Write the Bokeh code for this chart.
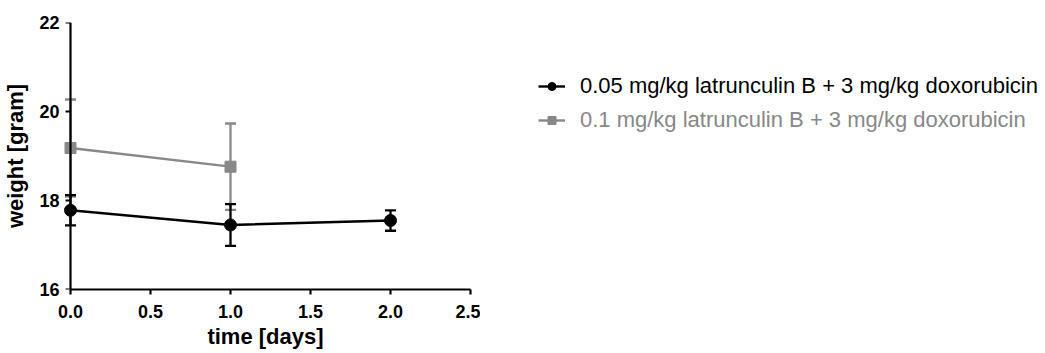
from bokeh.plotting import figure
from bokeh.models import (Range1d, Whisker, TeeHead, ColumnDataSource, Legend, LegendItem,
                          FixedTicker, LinearAxis, NumeralTickFormatter)
from bokeh.layouts import row
from bokeh.embed import file_html
from bokeh.resources import INLINE

# ---- data ----
days_a = [0, 1, 2]
mean_a = [17.78, 17.45, 17.55]
err_a = [0.34, 0.47, 0.23]
days_b = [0, 1]
mean_b = [19.18, 18.76]
err_b = [1.09, 0.97]
x_ticks = [0.0, 0.5, 1.0, 1.5, 2.0, 2.5]
y_ticks = [16, 18, 20, 22]
series_labels = ["0.05 mg/kg latrunculin B + 3 mg/kg doxorubicin",
                 "0.1 mg/kg latrunculin B + 3 mg/kg doxorubicin"]
color_a = "#000000"
color_b = "#888888"
FONT = "Liberation Sans"

src_a = ColumnDataSource(dict(x=days_a, y=mean_a,
                              lo=[m - e for m, e in zip(mean_a, err_a)],
                              hi=[m + e for m, e in zip(mean_a, err_a)]))
src_b = ColumnDataSource(dict(x=days_b, y=mean_b,
                              lo=[m - e for m, e in zip(mean_b, err_b)],
                              hi=[m + e for m, e in zip(mean_b, err_b)]))

p = figure(width=480, height=353, x_range=Range1d(-0.0625, 2.5), y_range=Range1d(16, 22),
           output_backend="svg", toolbar_location=None,
           min_border_left=60, min_border_right=10, min_border_top=22, min_border_bottom=64)
p.grid.visible = False
p.outline_line_color = None

for src, col in ((src_b, color_b), (src_a, color_a)):
    w = Whisker(source=src, base="x", upper="hi", lower="lo", line_color=col, line_width=2.3,
                upper_head=TeeHead(size=11, line_color=col, line_width=2.3),
                lower_head=TeeHead(size=11, line_color=col, line_width=2.3))
    p.add_layout(w)

p.line("x", "y", source=src_b, line_color=color_b, line_width=2.4)
p.scatter("x", "y", source=src_b, marker="square", size=11, color=color_b)
p.line("x", "y", source=src_a, line_color=color_a, line_width=2.4)
p.scatter("x", "y", source=src_a, marker="circle", size=12, color=color_a)


def style(ax):
    ax.axis_line_width = 2.2
    ax.axis_line_color = "black"
    ax.major_tick_line_width = 2.2
    ax.major_tick_line_color = "black"
    ax.major_tick_out = 5
    ax.major_tick_in = 0
    ax.minor_tick_out = 0
    ax.minor_tick_in = 0
    ax.major_label_text_font = FONT
    ax.major_label_text_font_style = "bold"
    ax.major_label_text_font_size = "18px"
    ax.major_label_text_color = "black"
    ax.axis_label_text_font = FONT
    ax.axis_label_text_font_style = "bold"
    ax.axis_label_text_font_size = "22px"
    ax.axis_label_text_color = "black"


# x axis (normal, below)
xa = p.xaxis[0]
style(xa)
xa.ticker = FixedTicker(ticks=x_ticks)
xa.formatter = NumeralTickFormatter(format="0.0")
xa.bounds = (0, 2.5)
xa.axis_label = "time [days]"
xa.major_label_standoff = 10
xa.axis_label_standoff = 3

# y axis line + ticks drawn at x = 0
ya = p.yaxis[0]
style(ya)
ya.ticker = FixedTicker(ticks=y_ticks)
ya.bounds = (16, 22)
ya.fixed_location = 0
ya.major_label_text_alpha = 0
ya.axis_label = None

# y axis labels + title in the left panel
yl = LinearAxis(ticker=FixedTicker(ticks=y_ticks))
style(yl)
yl.axis_line_color = None
yl.major_tick_line_color = None
yl.major_tick_out = 0
yl.major_label_standoff = 1
yl.axis_label = "weight [gram]"
yl.axis_label_standoff = 8
p.add_layout(yl, "left")

# ---- legend panel ----
lf = figure(width=565, height=353, x_range=Range1d(0, 1), y_range=Range1d(0, 1),
            output_backend="svg", toolbar_location=None,
            min_border_left=0, min_border_right=0, min_border_top=22, min_border_bottom=64)
lf.axis.visible = False
lf.grid.visible = False
lf.outline_line_color = None

nan = float("nan")
k1l = lf.line(x=[nan], y=[nan], line_color=color_a, line_width=2.4)
k1s = lf.scatter(x=[nan], y=[nan], marker="circle", size=8, color=color_a)
k2l = lf.line(x=[nan], y=[nan], line_color=color_b, line_width=2.4)
k2s = lf.scatter(x=[nan], y=[nan], marker="square", size=8, color=color_b)

for lab, rs, col, loc in ((series_labels[0], [k1l, k1s], color_a, (58, 190)),
                          (series_labels[1], [k2l, k2s], color_b, (58, 156))):
    leg = Legend(items=[LegendItem(label=lab, renderers=rs)], location=loc,
                 label_text_color=col, label_text_font=FONT, label_text_font_size="22px",
                 glyph_width=27, glyph_height=20, label_height=20, label_standoff=15,
                 padding=0, margin=0, spacing=0, border_line_color=None,
                 background_fill_alpha=0)
    lf.add_layout(leg)

open("out.html", "w").write(file_html(row(p, lf), INLINE))
